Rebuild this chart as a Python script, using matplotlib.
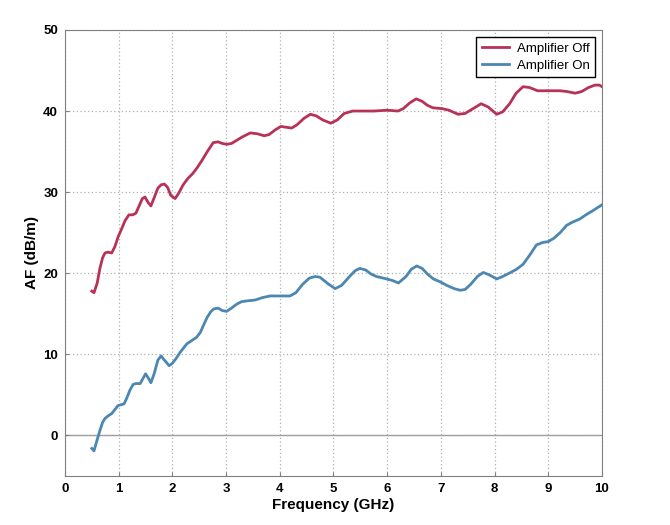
import matplotlib
matplotlib.use('Agg')
import matplotlib.pyplot as plt

plt.rcParams['font.family'] = ['Liberation Sans', 'DejaVu Sans']

# readings
freq_off = [0.50, 0.54, 0.60, 0.65, 0.70, 0.745, 0.80, 0.87, 0.93, 0.99, 1.05, 1.12,
            1.19, 1.26, 1.32, 1.38, 1.44, 1.49, 1.55, 1.60, 1.66, 1.73, 1.79, 1.85,
            1.91, 1.97, 2.05, 2.12, 2.20, 2.29, 2.38, 2.46, 2.55, 2.65, 2.76, 2.85,
            2.93, 3.01, 3.10, 3.20, 3.30, 3.45, 3.58, 3.71, 3.80, 3.92, 4.02, 4.12,
            4.22, 4.32, 4.45, 4.57, 4.68, 4.80, 4.95, 5.07, 5.20, 5.36, 5.55, 5.75,
            6.00, 6.20, 6.30, 6.42, 6.54, 6.65, 6.75, 6.85, 7.02, 7.15, 7.32, 7.45,
            7.60, 7.75, 7.88, 8.04, 8.15, 8.28, 8.40, 8.53, 8.65, 8.80, 8.97, 9.10,
            9.22, 9.35, 9.50, 9.62, 9.75, 9.87, 9.95, 10.0]
af_off = [17.8, 17.6, 18.8, 20.6, 21.9, 22.5, 22.6, 22.5, 23.3, 24.5, 25.4, 26.5,
          27.2, 27.2, 27.4, 28.3, 29.2, 29.4, 28.7, 28.3, 29.3, 30.5, 30.9, 31.0,
          30.6, 29.6, 29.2, 29.9, 30.9, 31.7, 32.3, 33.0, 33.9, 35.0, 36.1, 36.2,
          36.0, 35.9, 36.0, 36.4, 36.8, 37.3, 37.2, 36.95, 37.1, 37.7, 38.1, 38.0,
          37.9, 38.3, 39.1, 39.6, 39.4, 38.9, 38.5, 38.9, 39.7, 40.0, 40.0, 40.0,
          40.1, 40.0, 40.3, 41.0, 41.5, 41.2, 40.7, 40.4, 40.3, 40.1, 39.6, 39.7,
          40.3, 40.9, 40.5, 39.6, 39.9, 40.9, 42.2, 43.0, 42.9, 42.5, 42.5, 42.5,
          42.5, 42.4, 42.2, 42.4, 42.9, 43.2, 43.2, 43.0]

freq_on = [0.50, 0.54, 0.60, 0.65, 0.70, 0.745, 0.80, 0.87, 0.93, 0.99, 1.05, 1.10,
           1.15, 1.21, 1.27, 1.32, 1.40, 1.45, 1.50, 1.55, 1.60, 1.66, 1.73, 1.79,
           1.85, 1.94, 2.00, 2.07, 2.15, 2.27, 2.36, 2.45, 2.52, 2.58, 2.65, 2.72,
           2.77, 2.85, 2.93, 3.01, 3.10, 3.20, 3.29, 3.40, 3.54, 3.68, 3.82, 3.99,
           4.19, 4.30, 4.42, 4.55, 4.66, 4.75, 4.90, 5.03, 5.15, 5.30, 5.40, 5.49,
           5.60, 5.70, 5.80, 5.99, 6.10, 6.21, 6.35, 6.45, 6.55, 6.65, 6.75, 6.86,
           7.00, 7.11, 7.25, 7.36, 7.45, 7.55, 7.68, 7.79, 7.90, 8.04, 8.15, 8.30,
           8.41, 8.53, 8.65, 8.78, 8.90, 9.00, 9.10, 9.22, 9.34, 9.45, 9.59, 9.70,
           9.85, 9.99]
af_on = [-1.6, -1.9, -0.5, 0.6, 1.6, 2.1, 2.4, 2.7, 3.2, 3.7, 3.8, 3.9,
         4.6, 5.6, 6.3, 6.4, 6.4, 7.0, 7.6, 7.1, 6.5, 7.6, 9.3, 9.8,
         9.3, 8.6, 8.9, 9.5, 10.3, 11.3, 11.7, 12.1, 12.7, 13.6, 14.6, 15.3,
         15.6, 15.7, 15.4, 15.3, 15.7, 16.2, 16.5, 16.6, 16.7, 17.0, 17.2, 17.2,
         17.2, 17.6, 18.6, 19.4, 19.6, 19.5, 18.7, 18.1, 18.5, 19.6, 20.3, 20.6,
         20.4, 19.9, 19.6, 19.3, 19.1, 18.8, 19.6, 20.5, 20.9, 20.6, 19.9, 19.3,
         18.9, 18.5, 18.1, 17.9, 18.0, 18.6, 19.6, 20.1, 19.8, 19.3, 19.6, 20.1,
         20.5, 21.1, 22.2, 23.5, 23.8, 23.9, 24.3, 25.0, 25.9, 26.3, 26.7, 27.2,
         27.8, 28.4]

fig = plt.figure(figsize=(6.7, 5.25), dpi=100)
ax = fig.add_axes([0.097, 0.0933, 0.8015, 0.8497])

ax.plot(freq_off, af_off, color='#B83258', lw=2, label='Amplifier Off')
ax.plot(freq_on, af_on, color='#4B87B1', lw=2, label='Amplifier On')
ax.axhline(0, color='#999999', lw=1, zorder=1)

ax.set_xlim(0, 10)
ax.set_ylim(-5, 50)
ax.set_xticks(range(0, 11))
ax.set_yticks(range(0, 51, 10))
ax.grid(True, color='#b0b0b0', linestyle=(0, (1, 2)), lw=0.9)
for s in ax.spines.values():
    s.set_color('#808080')
ax.tick_params(direction='in', length=3, color='#808080', labelsize=9.5, pad=5)
for lab in ax.get_xticklabels() + ax.get_yticklabels():
    lab.set_fontweight('bold')

ax.set_xlabel('Frequency (GHz)', fontsize=11, fontweight='bold', labelpad=2)
ax.set_ylabel('AF (dB/m)', fontsize=11, fontweight='bold', labelpad=3)

leg = ax.legend(loc='upper right', fontsize=9.5, fancybox=False, framealpha=1,
                edgecolor='black', borderpad=0.45, handlelength=2.0,
                labelspacing=0.35, borderaxespad=0.5, handletextpad=0.6)
leg.get_frame().set_linewidth(1)

plt.savefig('out.png', dpi=100)
plt.close()
